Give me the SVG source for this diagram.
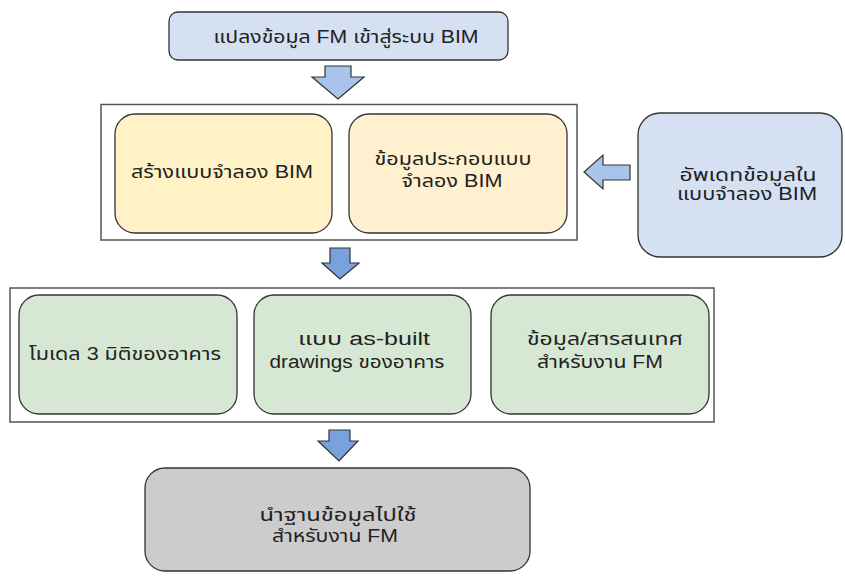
<svg xmlns="http://www.w3.org/2000/svg" width="845" height="577" viewBox="0 0 845 577">
  <style>
    text { font-family: "Liberation Sans", "Noto Sans", "Noto Sans Thai", "DejaVu Sans", sans-serif; font-size: 18px; fill: #222; text-anchor: middle; }
    .node { stroke: #333; stroke-width: 1.3; }
    .frame { fill: #fff; stroke: #555; stroke-width: 1.5; }
    .blue { fill: #d5e0f3; }
    .yellow1 { fill: #fff2c6; }
    .yellow2 { fill: #fff0cf; }
    .green { fill: #d6e8d4; }
    .gray { fill: #cccccc; }
    .arrow-light { fill: #a9c4eb; stroke: #333; stroke-width: 1.2; stroke-linejoin: miter; }
    .arrow { fill: #79a1de; stroke: #333; stroke-width: 1.2; stroke-linejoin: miter; }
  </style>

  <!-- grouping frames -->
  <g id="frame-model">
    <rect class="frame" x="101" y="104.5" width="476" height="135.5"/>
  </g>
  <g id="frame-outputs">
    <rect class="frame" x="10" y="288" width="704" height="134"/>
  </g>

  <!-- nodes -->
  <g id="convert">
    <rect class="node blue" x="169" y="12" width="339" height="48" rx="9"/>
    <text x="346" y="43" textLength="265" lengthAdjust="spacingAndGlyphs">แปลงข้อมูล FM เข้าสู่ระบบ BIM</text>
  </g>

  <g id="create-model">
    <rect class="node yellow1" x="115" y="114" width="217" height="119" rx="20"/>
    <text x="222" y="178" textLength="182" lengthAdjust="spacingAndGlyphs">สร้างแบบจำลอง BIM</text>
  </g>

  <g id="model-data">
    <rect class="node yellow2" x="349" y="114" width="218" height="119" rx="20"/>
    <text x="453" y="165" textLength="157" lengthAdjust="spacingAndGlyphs">ข้อมูลประกอบแบบ</text>
    <text x="452" y="187" textLength="101" lengthAdjust="spacingAndGlyphs">จำลอง BIM</text>
  </g>

  <g id="update-model">
    <rect class="node blue" x="638" y="113" width="204" height="144" rx="22"/>
    <text x="748" y="181" textLength="137" lengthAdjust="spacingAndGlyphs">อัพเดทข้อมูลใน</text>
    <text x="747" y="200" textLength="140" lengthAdjust="spacingAndGlyphs">แบบจำลอง BIM</text>
  </g>

  <g id="model-3d">
    <rect class="node green" x="19" y="295" width="218" height="119" rx="20"/>
    <text x="125" y="360" textLength="192" lengthAdjust="spacingAndGlyphs">โมเดล 3 มิติของอาคาร</text>
  </g>

  <g id="as-built">
    <rect class="node green" x="254" y="295" width="217" height="119" rx="20"/>
    <text x="364" y="345" textLength="132" lengthAdjust="spacingAndGlyphs">แบบ as-built</text>
    <text x="357" y="368" textLength="175" lengthAdjust="spacingAndGlyphs">drawings ของอาคาร</text>
  </g>

  <g id="fm-info">
    <rect class="node green" x="491" y="295" width="218" height="119" rx="20"/>
    <text x="605" y="345" textLength="156" lengthAdjust="spacingAndGlyphs">ข้อมูล/สารสนเทศ</text>
    <text x="600" y="368" textLength="126" lengthAdjust="spacingAndGlyphs">สำหรับงาน FM</text>
  </g>

  <g id="fm-use">
    <rect class="node gray" x="145" y="468" width="385" height="103" rx="20"/>
    <text x="338" y="521" textLength="157" lengthAdjust="spacingAndGlyphs">นำฐานข้อมูลไปใช้</text>
    <text x="335" y="542" textLength="126" lengthAdjust="spacingAndGlyphs">สำหรับงาน FM</text>
  </g>

  <!-- block arrows between stages -->
  <g id="connectors">
    <polygon class="arrow-light" points="325,66 351,66 351,77 364,77 338,99 312,77 325,77"/>
    <polygon class="arrow-light" points="630,165 630,180 603,180 603,189 584,172 603,155 603,165"/>
    <polygon class="arrow" points="330,248 350,248 350,263 359,263 340,279 322,263 330,263"/>
    <polygon class="arrow" points="329,430 350,430 350,441 358,441 339,461 318,441 329,441"/>
  </g>
</svg>
